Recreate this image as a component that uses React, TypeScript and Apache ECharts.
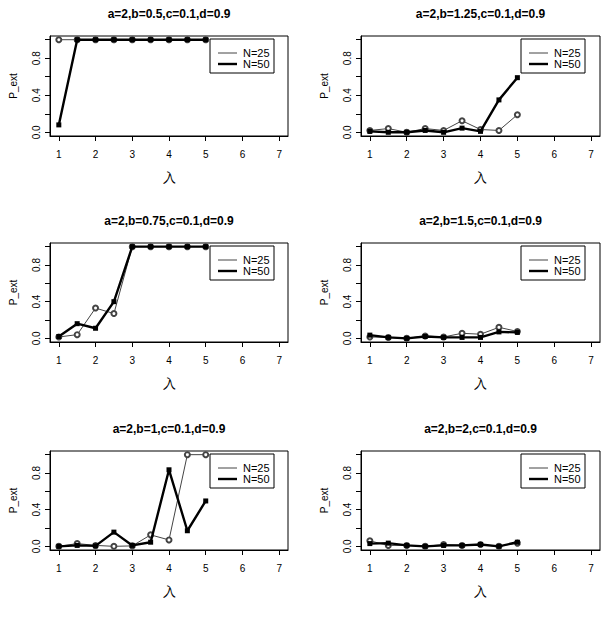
import React, { useEffect, useRef } from "react";
import * as echarts from "echarts";

// ---- data ----
const lambdaValues = [1, 1.5, 2, 2.5, 3, 3.5, 4, 4.5, 5];
const seriesNames = ["N=25", "N=50"];
const panelTitles = [
  "a=2,b=0.5,c=0.1,d=0.9",
  "a=2,b=1.25,c=0.1,d=0.9",
  "a=2,b=0.75,c=0.1,d=0.9",
  "a=2,b=1.5,c=0.1,d=0.9",
  "a=2,b=1,c=0.1,d=0.9",
  "a=2,b=2,c=0.1,d=0.9",
];
const n25_b050 = [1, 1, 1, 1, 1, 1, 1, 1, 1];
const n50_b050 = [0.08, 1, 1, 1, 1, 1, 1, 1, 1];
const n25_b125 = [0.02, 0.04, 0.0, 0.04, 0.02, 0.125, 0.03, 0.02, 0.19];
const n50_b125 = [0.01, 0.0, 0.0, 0.02, 0.0, 0.045, 0.01, 0.35, 0.59];
const n25_b075 = [0.015, 0.04, 0.33, 0.27, 1, 1, 1, 1, 1];
const n50_b075 = [0.02, 0.16, 0.11, 0.4, 1, 1, 1, 1, 1];
const n25_b150 = [0.015, 0.01, 0.0, 0.025, 0.015, 0.055, 0.045, 0.12, 0.075];
const n50_b150 = [0.035, 0.01, 0.0, 0.02, 0.01, 0.01, 0.01, 0.07, 0.065];
const n25_b100 = [0.0, 0.03, 0.01, 0.0, 0.005, 0.125, 0.07, 1, 1];
const n50_b100 = [0.0, 0.01, 0.005, 0.155, 0.01, 0.045, 0.835, 0.17, 0.495];
const n25_b200 = [0.06, 0.01, 0.01, 0.0, 0.02, 0.01, 0.02, 0.0, 0.035];
const n50_b200 = [0.03, 0.035, 0.01, 0.0, 0.01, 0.01, 0.02, 0.0, 0.045];
const panelN25 = [n25_b050, n25_b125, n25_b075, n25_b150, n25_b100, n25_b200];
const panelN50 = [n50_b050, n50_b125, n50_b075, n50_b150, n50_b100, n50_b200];
const xTicks = [1, 2, 3, 4, 5, 6, 7];
const yTicks = [0, 0.2, 0.4, 0.6, 0.8, 1.0];
const yLabelValues = [0, 0.4, 0.8];
const xAxisName = "入";
const yAxisName = "P_ext";

// ---- layout ----
const colLeft = [50, 361];
const colWidth = [238, 239];
const rowTop = [36, 243, 451];
const rowHeight = [100, 99, 99];
const FONT = "Liberation Sans, Arial, Helvetica, sans-serif";

export default function App() {
  const ref = useRef<HTMLDivElement>(null);
  useEffect(() => {
    document.body.style.margin = "0";
    if (!ref.current) return;
    const chart = echarts.init(ref.current, undefined, { renderer: "svg" });
    const grids: any[] = [];
    const xAxes: any[] = [];
    const yAxes: any[] = [];
    const series: any[] = [];
    const graphics: any[] = [];
    for (let p = 0; p < 6; p++) {
      const r = Math.floor(p / 2);
      const c = p % 2;
      const left = colLeft[c];
      const top = rowTop[r];
      const width = colWidth[c];
      const height = rowHeight[r];
      grids.push({
        left,
        top,
        width,
        height,
        show: true,
        borderColor: "#000",
        borderWidth: 1,
        backgroundColor: "transparent",
      });
      xAxes.push({
        gridIndex: p,
        type: "value",
        min: 0.76,
        max: 7.24,
        axisLine: { show: true, onZero: false, lineStyle: { color: "#000", width: 1 } },
        axisTick: { show: true, length: 5, customValues: xTicks, lineStyle: { color: "#000" } },
        axisLabel: {
          customValues: xTicks,
          fontSize: 10,
          color: "#000",
          margin: 13,
          fontFamily: FONT,
          formatter: (v: number) => String(v),
        },
        splitLine: { show: false },
        name: xAxisName,
        nameLocation: "middle",
        nameGap: 35,
        nameTextStyle: { fontSize: 13, color: "#000", fontFamily: FONT },
      });
      yAxes.push({
        gridIndex: p,
        type: "value",
        min: -0.04,
        max: 1.04,
        axisLine: { show: true, onZero: false, lineStyle: { color: "#000", width: 1 } },
        axisTick: { show: true, length: 5, customValues: yTicks, lineStyle: { color: "#000" } },
        axisLabel: {
          customValues: yLabelValues,
          fontSize: 10,
          color: "#000",
          rotate: 90,
          margin: 9,
          fontFamily: FONT,
          formatter: (v: number) => v.toFixed(1),
        },
        splitLine: { show: false },
        name: yAxisName,
        nameLocation: "middle",
        nameRotate: 90,
        nameGap: 32,
        nameTextStyle: { fontSize: 10, color: "#000", fontFamily: FONT },
      });
      series.push({
        type: "line",
        name: seriesNames[0],
        xAxisIndex: p,
        yAxisIndex: p,
        data: lambdaValues.map((x, i) => [x, panelN25[p][i]]),
        symbol: "emptyCircle",
        symbolSize: 5,
        lineStyle: { color: "#444", width: 1 },
        itemStyle: { color: "#444", borderColor: "#444", borderWidth: 1 },
        z: 2,
      });
      series.push({
        type: "line",
        name: seriesNames[1],
        xAxisIndex: p,
        yAxisIndex: p,
        data: lambdaValues.map((x, i) => [x, panelN50[p][i]]),
        symbol: "rect",
        symbolSize: 5,
        showAllSymbol: true,
        lineStyle: { color: "#000", width: 2.4 },
        itemStyle: { color: "#000" },
        z: 3,
      });
      // title
      graphics.push({
        type: "text",
        x: left + width / 2,
        y: top - 22,
        style: {
          text: panelTitles[p],
          fill: "#000",
          font: `bold 12px ${FONT}`,
          textAlign: "center",
          textVerticalAlign: "middle",
        },
      });
      // legend box
      const lx = left + 160;
      const ly = top + 3;
      graphics.push({
        type: "group",
        children: [
          {
            type: "rect",
            shape: { x: lx, y: ly, width: 64, height: 34 },
            style: { fill: "#fff", stroke: "#000", lineWidth: 1 },
            z: 10,
          },
          {
            type: "line",
            shape: { x1: lx + 8, y1: ly + 14, x2: lx + 27, y2: ly + 14 },
            style: { stroke: "#444", lineWidth: 1 },
            z: 11,
          },
          {
            type: "line",
            shape: { x1: lx + 8, y1: ly + 25, x2: lx + 27, y2: ly + 25 },
            style: { stroke: "#000", lineWidth: 2.4 },
            z: 11,
          },
          {
            type: "text",
            x: lx + 33,
            y: ly + 14,
            style: { text: seriesNames[0], fill: "#000", font: `11px ${FONT}`, textVerticalAlign: "middle" },
            z: 11,
          },
          {
            type: "text",
            x: lx + 33,
            y: ly + 25,
            style: { text: seriesNames[1], fill: "#000", font: `11px ${FONT}`, textVerticalAlign: "middle" },
            z: 11,
          },
        ],
      });
    }
    chart.setOption({
      animation: false,
      backgroundColor: "#fff",
      textStyle: { fontFamily: FONT },
      grid: grids,
      xAxis: xAxes,
      yAxis: yAxes,
      series,
      graphic: graphics,
    });
    return () => chart.dispose();
  }, []);
  return <div ref={ref} style={{ width: 608, height: 620 }} />;
}
